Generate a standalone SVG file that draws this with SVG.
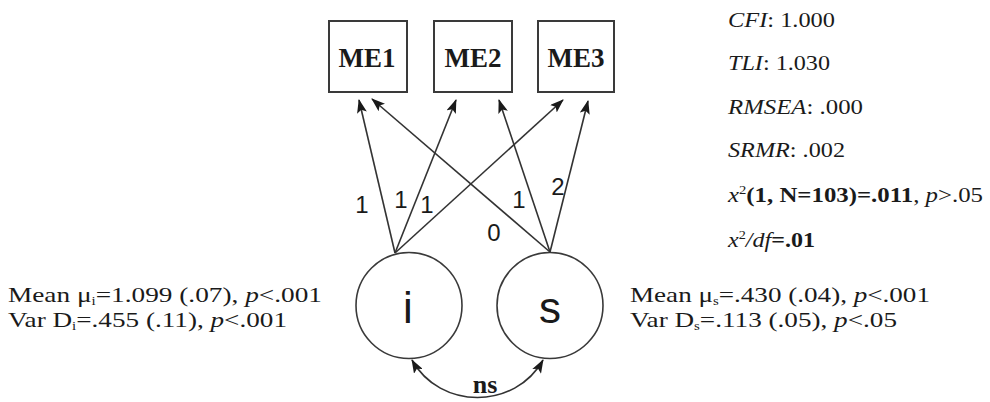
<svg xmlns="http://www.w3.org/2000/svg" width="990" height="402" viewBox="0 0 990 402">
  <defs>
    <style>
      .box { fill: #fff; stroke: #3a3a3a; stroke-width: 2; }
      .lat { fill: #fff; stroke: #3a3a3a; stroke-width: 1.6; }
      .path { fill: none; stroke: #333; stroke-width: 1.6; }
      .obs { font-family: "Liberation Serif", "Times New Roman", serif; font-weight: bold; font-size: 28px; fill: #1a1a1a; text-anchor: middle; }
      .latlbl { font-family: "Liberation Sans", Arial, sans-serif; font-size: 44px; fill: #1a1a1a; text-anchor: middle; }
      .coef { font-family: "Liberation Sans", Arial, sans-serif; font-size: 24px; fill: #1a1a1a; text-anchor: middle; }
      .est { font-family: "Liberation Serif", "Times New Roman", serif; font-size: 22px; fill: #1a1a1a; }
      .fit { font-family: "Liberation Serif", "Times New Roman", serif; font-size: 22px; fill: #1a1a1a; }
      .it { font-style: italic; }
      .b { font-weight: bold; }
    </style>
    <marker id="head" viewBox="0 0 14 10" refX="13" refY="5" markerWidth="14" markerHeight="10" markerUnits="userSpaceOnUse" orient="auto-start-reverse">
      <path d="M0,0 L14,5 L0,10 L3,5 Z" fill="#1a1a1a"/>
    </marker>
  </defs>

  <!-- observed indicators -->
  <g id="ME1">
    <rect class="box" x="329" y="21" width="78" height="71"/>
    <text class="obs" x="367" y="67" textLength="57" lengthAdjust="spacingAndGlyphs">ME1</text>
  </g>
  <g id="ME2">
    <rect class="box" x="434" y="21" width="78" height="71"/>
    <text class="obs" x="473" y="67" textLength="57" lengthAdjust="spacingAndGlyphs">ME2</text>
  </g>
  <g id="ME3">
    <rect class="box" x="538" y="21" width="76" height="71"/>
    <text class="obs" x="576" y="67" textLength="57" lengthAdjust="spacingAndGlyphs">ME3</text>
  </g>

  <!-- latent growth factors -->
  <g id="intercept">
    <circle class="lat" cx="409" cy="305.5" r="53"/>
    <text class="latlbl" x="408" y="323">i</text>
  </g>
  <g id="slope">
    <circle class="lat" cx="550" cy="305.5" r="53"/>
    <text class="latlbl" x="550" y="323">s</text>
  </g>

  <!-- loadings and covariance -->
  <g id="connectors">
    <line class="path" x1="395" y1="253" x2="359" y2="100" marker-end="url(#head)"/>
    <line class="path" x1="395" y1="253" x2="456" y2="100" marker-end="url(#head)"/>
    <line class="path" x1="395" y1="253" x2="563" y2="100" marker-end="url(#head)"/>
    <line class="path" x1="550" y1="252" x2="372" y2="99" marker-end="url(#head)"/>
    <line class="path" x1="550" y1="252" x2="499" y2="100" marker-end="url(#head)"/>
    <line class="path" x1="550" y1="252" x2="588" y2="101" marker-end="url(#head)"/>
    <path class="path" d="M412,360 C440,410 515,410 543,360" marker-start="url(#head)" marker-end="url(#head)"/>
  </g>

  <!-- loading values -->
  <g id="loadings">
    <text class="coef" x="362" y="213">1</text>
    <text class="coef" x="401" y="208">1</text>
    <text class="coef" x="427" y="213">1</text>
    <text class="coef" x="494" y="241">0</text>
    <text class="coef" x="519" y="208">1</text>
    <text class="coef" x="558" y="195">2</text>
    <text class="obs" x="485" y="393" style="font-size:26px">ns</text>
  </g>

  <!-- factor estimates -->
  <g id="intercept-estimates">
    <text class="est" x="8" y="302" textLength="314" lengthAdjust="spacingAndGlyphs">Mean μ<tspan font-size="12" dy="3">i</tspan><tspan dy="-3">=1.099 (.07), </tspan><tspan class="it">p</tspan>&lt;.001</text>
    <text class="est" x="8" y="327" textLength="279" lengthAdjust="spacingAndGlyphs">Var D<tspan font-size="12" dy="3">i</tspan><tspan dy="-3">=.455 (.11), </tspan><tspan class="it">p</tspan>&lt;.001</text>
  </g>
  <g id="slope-estimates">
    <text class="est" x="630" y="302" textLength="300" lengthAdjust="spacingAndGlyphs">Mean μ<tspan font-size="12" dy="3">s</tspan><tspan dy="-3">=.430 (.04), </tspan><tspan class="it">p</tspan>&lt;.001</text>
    <text class="est" x="630" y="327" textLength="267" lengthAdjust="spacingAndGlyphs">Var D<tspan font-size="12" dy="3">s</tspan><tspan dy="-3">=.113 (.05), </tspan><tspan class="it">p</tspan>&lt;.05</text>
  </g>

  <!-- model fit -->
  <g id="fit-indices">
    <text class="fit" x="728" y="27" textLength="107" lengthAdjust="spacingAndGlyphs"><tspan class="it">CFI</tspan>: 1.000</text>
    <text class="fit" x="728" y="70" textLength="102" lengthAdjust="spacingAndGlyphs"><tspan class="it">TLI</tspan>: 1.030</text>
    <text class="fit" x="728" y="114" textLength="135" lengthAdjust="spacingAndGlyphs"><tspan class="it">RMSEA</tspan>: .000</text>
    <text class="fit" x="728" y="157" textLength="117" lengthAdjust="spacingAndGlyphs"><tspan class="it">SRMR</tspan>: .002</text>
    <text class="fit" x="728" y="202" textLength="255" lengthAdjust="spacingAndGlyphs"><tspan class="it">x</tspan><tspan font-size="13" dy="-8">2</tspan><tspan class="b" dy="8">(1, N=103)=.011</tspan>, <tspan class="it">p</tspan>&gt;.05</text>
    <text class="fit" x="728" y="247" textLength="87" lengthAdjust="spacingAndGlyphs"><tspan class="it">x</tspan><tspan font-size="13" dy="-8">2</tspan><tspan class="it" dy="8">/df</tspan><tspan class="b">=.01</tspan></text>
  </g>
</svg>
